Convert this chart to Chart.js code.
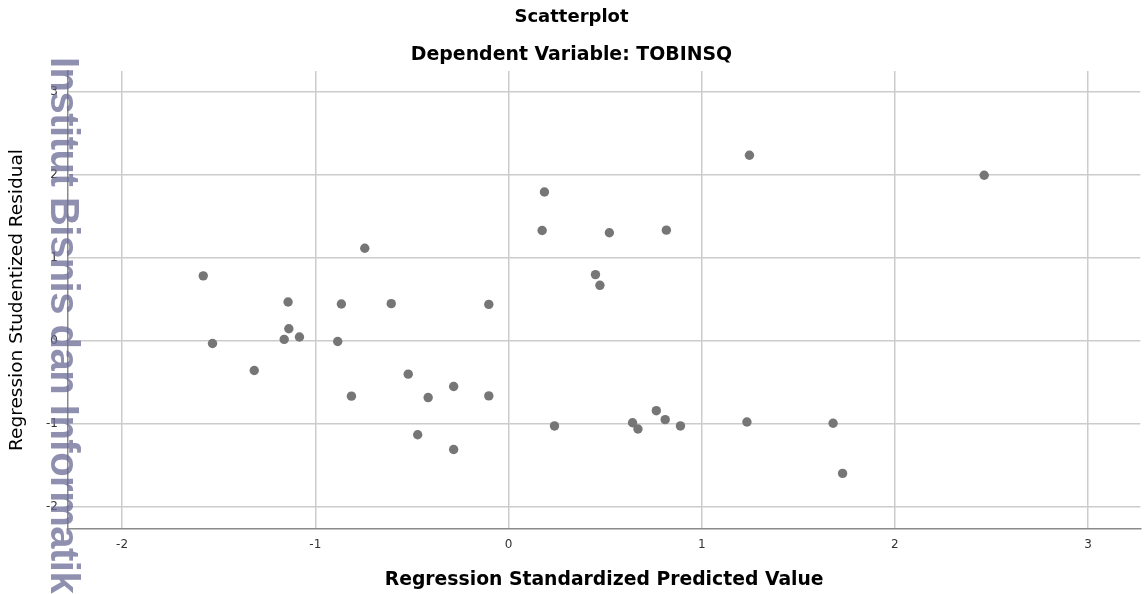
<!DOCTYPE html>
<html>
<head>
<meta charset="utf-8">
<script src="https://cdn.jsdelivr.net/npm/chart.js@4"></script>
<style>
    body { margin: 0; background: #fff; }
    #wrap { position: relative; width: 1145px; height: 594px; overflow: hidden; }
    #mark {
        position: absolute; left: 85px; top: 57px;
        transform: rotate(90deg); transform-origin: 0 0;
        font: bold 40px "Liberation Sans", Arial, sans-serif; line-height: 40px;
        letter-spacing: -0.5px;
        white-space: nowrap; color: rgba(105, 105, 150, 0.75);
        pointer-events: none;
    }
</style>
</head>
<body>
<div id="wrap">
    <canvas id="myChart"></canvas>
    <div id="mark">Institut Bisnis dan Informatika Kwik Kian Gie</div>
</div>
<script>
// predicted (x) vs residual (y)
var xValues = [-1.580, -1.532, -1.316, -1.141, -1.137, -1.161, -1.082, -0.884, -0.865, -0.813,
    -0.744, -0.607, -0.519, -0.470, -0.416, -0.284, -0.284, -0.102, -0.102, 0.186,
    0.174, 0.238, 0.450, 0.473, 0.522, 0.642, 0.670, 0.765, 0.811, 0.817,
    0.890, 1.234, 1.247, 1.680, 1.729, 2.462];
var yValues = [0.781, -0.034, -0.360, 0.466, 0.144, 0.015, 0.044, -0.010, 0.442, -0.669,
    1.114, 0.446, -0.404, -1.134, -0.686, -0.553, -1.312, 0.437, -0.666, 1.791,
    1.328, -1.028, 0.796, 0.667, 1.300, -0.989, -1.065, -0.844, -0.952, 1.332,
    -1.028, -0.980, 2.234, -0.996, -1.600, 1.993];
var xTicks = [-2, -1, 0, 1, 2, 3];
var yTicks = [-2, -1, 0, 1, 2, 3];

var points = [];
for (var i in xValues) {
    points.push({ x: xValues[i], y: yValues[i] });
}

function keepTicks(list) {
    return function (scale) {
        scale.ticks = list.map(function (v) { return { value: v }; });
    };
}

var tickFont = { family: "DejaVu Sans", size: 12 };

new Chart("myChart", {
    type: 'scatter',
    data: {
        datasets: [{
            data: points,
            backgroundColor: '#767676',
            borderWidth: 0,
            pointRadius: 4.7,
            pointHoverRadius: 4.7
        }]
    },
    options: {
        responsive: true,
        maintainAspectRatio: false,
        animation: false,
        layout: { padding: { left: 0, right: 2, top: 0, bottom: 0 } },
        plugins: {
            legend: { display: false },
            tooltip: { enabled: false },
            title: {
                display: true,
                text: 'Scatterplot',
                color: '#000',
                font: { family: "DejaVu Sans", size: 18, weight: 'bold' },
                padding: { top: 7, bottom: 15 }
            },
            subtitle: {
                display: true,
                text: 'Dependent Variable: TOBINSQ',
                color: '#000',
                font: { family: "DejaVu Sans", size: 18.9, weight: 'bold' },
                padding: { top: 0, bottom: 4.7 }
            }
        },
        scales: {
            x: {
                type: 'linear',
                min: -2.28,
                max: 3.27,
                afterBuildTicks: keepTicks(xTicks),
                afterFit: function (s) { s.height = 65; },
                grid: { color: '#cccccc', lineWidth: 1.5, drawTicks: false },
                border: { color: '#8a8a8a', width: 1.5 },
                ticks: { color: '#333', font: tickFont, padding: 9 },
                title: {
                    display: true,
                    text: 'Regression Standardized Predicted Value',
                    color: '#000',
                    font: { family: "DejaVu Sans", size: 18.8, weight: 'bold' },
                    padding: { top: 0, bottom: 2.7 }
                }
            },
            y: {
                type: 'linear',
                min: -2.27,
                max: 3.25,
                afterBuildTicks: keepTicks(yTicks),
                afterFit: function (s) { s.width = 68; },
                grid: { color: '#cccccc', lineWidth: 1.5, drawTicks: false },
                border: { color: '#8a8a8a', width: 1.5 },
                ticks: { color: '#333', font: tickFont, padding: 10 },
                title: {
                    display: true,
                    text: 'Regression Studentized Residual',
                    color: '#000',
                    font: { family: "DejaVu Sans", size: 18.5 },
                    padding: { top: 6, bottom: 0 }
                }
            }
        }
    }
});
</script>
</body>
</html>
